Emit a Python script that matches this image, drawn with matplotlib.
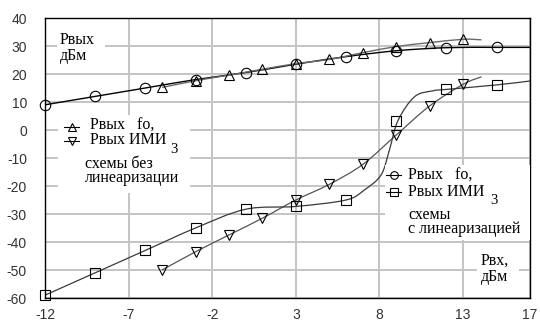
import numpy as np
import matplotlib
matplotlib.use("Agg")
import matplotlib.pyplot as plt
from matplotlib.path import Path
from matplotlib.patches import PathPatch, Rectangle
from matplotlib.lines import Line2D

# ---- data ----
x_lin = [-12, -9, -6, -3, 0, 3, 6, 9, 12, 15]          # circles / squares (with linearization)
fo_lin = [9, 12, 15, 18, 20.5, 23.5, 26.2, 28.3, 29.4, 29.5]
imd_lin = [-59, -51, -43, -35, -28.3, -27.3, -25, 3.3, 14.5, 16.1]

# drawn line of the squares (line has its own points)
imd_lin_line_x = [-12, -9, -6, -3, 0, 3, 6, 7.1, 8.1, 8.6, 9.1, 10.1, 11.2, 12, 15, 17]
imd_lin_line_y = [-59, -51, -43, -35, -28.3, -27.3, -25, -21.4, -16, -7, 3.3, 11.9, 14, 14.5, 16.1, 17.5]
fo_lin_tail = [17, 29.5]

x_nolin = [-5, -3, -1, 1, 3, 5, 7, 9, 11, 13]          # triangles (without linearization)
fo_nolin = [15.2, 17.6, 19.6, 21.7, 23.7, 25.2, 27.6, 29.8, 31.2, 32.4]
imd_nolin = [-50, -43.5, -37.5, -31.5, -25, -19.4, -12.3, -1.8, 8.6, 16.3]
fo_nolin_tail = [14.1, 32.2]
imd_nolin_tail = [14.1, 19]

x_ticks = [-12, -7, -2, 3, 8, 13, 17]
y_ticks = [-60, -50, -40, -30, -20, -10, 0, 10, 20, 30, 40]

W, H = 540, 325
fig = plt.figure(figsize=(W / 100, H / 100), dpi=100)
ax = fig.add_axes([45 / W, 1 - 298 / H, (530 - 45) / W, (298 - 18) / H])
ax.set_xlim(-12, 17)
ax.set_ylim(-60, 40)
ax.set_xticks(x_ticks)
ax.set_yticks(y_ticks)
ax.set_xticklabels([str(v) for v in x_ticks])
ax.set_yticklabels([str(v) for v in y_ticks])
ax.tick_params(length=0, labelsize=10, colors="#333333")
ax.tick_params(axis="y", pad=13)
ax.tick_params(axis="x", pad=7)
for lab in ax.get_xticklabels() + ax.get_yticklabels():
    lab.set_family("Liberation Sans")
ax.grid(True, color="#c4c4c4", linewidth=1.4, zorder=0)
ax.set_axisbelow(True)
for s in ax.spines.values():
    s.set_color("black")
    s.set_linewidth(1.0)
    s.set_zorder(5)


def smooth(xs, ys, color, lw=0.9):
    pts = np.column_stack([xs, ys]).astype(float)
    n = len(pts)
    verts = [pts[0]]
    codes = [Path.MOVETO]
    for i in range(n - 1):
        p0 = pts[i - 1] if i > 0 else pts[i]
        p1 = pts[i]
        p2 = pts[i + 1]
        p3 = pts[i + 2] if i + 2 < n else pts[i + 1]
        verts += [p1 + (p2 - p0) / 6, p2 - (p3 - p1) / 6, p2]
        codes += [Path.CURVE4] * 3
    ax.add_patch(PathPatch(Path(verts, codes), fill=False, edgecolor=color,
                           linewidth=lw, zorder=2, transform=ax.transData))


smooth(x_lin + [fo_lin_tail[0]], fo_lin + [fo_lin_tail[1]], "black", 1.0)
smooth(x_nolin + [fo_nolin_tail[0]], fo_nolin + [fo_nolin_tail[1]], "#6a6a6a", 1.0)
smooth(x_nolin + [imd_nolin_tail[0]], imd_nolin + [imd_nolin_tail[1]], "#555555", 0.9)
smooth(imd_lin_line_x, imd_lin_line_y, "#3a3a3a", 0.9)

mk = dict(ls="none", mfc="none", mec="black", mew=0.8, zorder=3, clip_on=False)
ax.plot(x_lin, fo_lin, marker="o", ms=7.5, **mk)
ax.plot(x_nolin, fo_nolin, marker="^", ms=7.5, **mk)
ax.plot(x_nolin, imd_nolin, marker="v", ms=7.5, **mk)
ax.plot(x_lin, imd_lin, marker="s", ms=7.5, **mk)


def fx(px):
    return px / W


def fy(py):
    return 1 - py / H


def box(x0, y0, x1, y1):
    fig.add_artist(Rectangle((fx(x0), fy(y1)), fx(x1) - fx(x0), fy(y0) - fy(y1),
                             transform=fig.transFigure, facecolor="white",
                             edgecolor="none", zorder=1))


def txt(px, py, s, size=11.5, ls=0.82):
    fig.text(fx(px), fy(py), s, fontsize=size, family="Liberation Serif",
             va="center", ha="left", zorder=6, linespacing=ls)


def key(px0, px1, py, marker):
    fig.add_artist(Line2D([fx(px0), fx(px1)], [fy(py), fy(py)], color="black", lw=0.8,
                          transform=fig.transFigure, zorder=6))
    fig.add_artist(Line2D([fx((px0 + px1) / 2)], [fy(py)], marker=marker, ms=5.5,
                          mfc="none", mec="black", mew=0.8, ls="none",
                          transform=fig.transFigure, zorder=6))


# axis caption boxes
box(57, 30, 105, 68)
txt(60, 48, "Рвых\nдБм", ls=1.05)

box(477, 250, 519, 290)
txt(481, 269, "Рвх,\nдБм", ls=1.0)

# left legend
box(58, 115, 190, 193)
key(64, 79, 127, "^")
key(64, 79, 141, "v")
txt(90, 133, "Рвых   fo,\nРвых ИМИ")
txt(170, 149.8, "3", size=10.5)
txt(85, 171.2, "схемы без\nлинеаризации")

# right legend
box(385, 165, 530, 240)
key(386, 401, 175, "o")
key(386, 401, 192, "s")
txt(408, 183.5, "Рвых   fo,\nРвых ИМИ", ls=1.0)
txt(490, 200, "3", size=10.5)
txt(408, 222.2, "схемы\nс линеаризацией")

fig.savefig("out.png", dpi=100)
